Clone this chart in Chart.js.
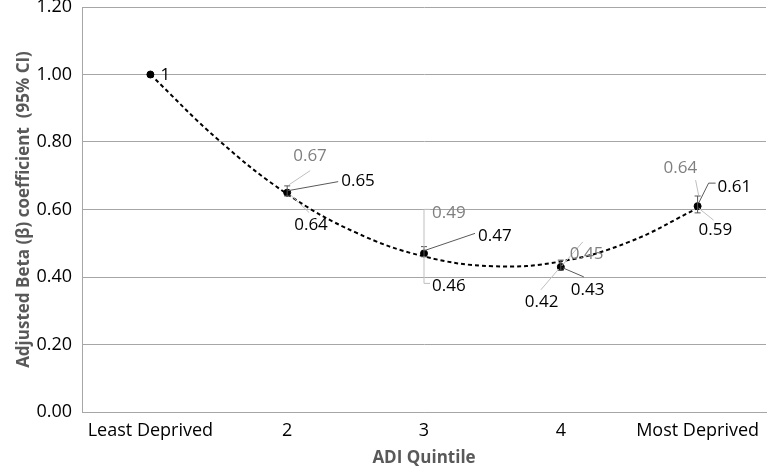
<!DOCTYPE html>
<html>
<head>
<meta charset="utf-8">
<script src="https://cdn.jsdelivr.net/npm/chart.js@4"></script>
<style>
  body { margin: 0; background: #fff; }
  #wrap { width: 771px; height: 468px; }
</style>
</head>
<body>
<div id="wrap"><canvas id="chart"></canvas></div>
<script>
// ADI quintile categories and adjusted beta values
const quintiles = ['Least Deprived', '2', '3', '4', 'Most Deprived'];
const beta = [1, 0.65, 0.47, 0.43, 0.61];
const ciLower = [1, 0.64, 0.46, 0.42, 0.59];
const ciUpper = [1, 0.67, 0.49, 0.45, 0.64];

// dashed trend curve (half-step positions)
const trendX = [1, 1.5, 2, 2.5, 3, 3.5, 4, 4.5, 5];
const trendY = [1.00, 0.805, 0.646, 0.532, 0.461, 0.432, 0.446, 0.504, 0.604];

const yTicks = [0, 0.2, 0.4, 0.6, 0.8, 1.0, 1.2];

// label text for each point: upper CI (grey), estimate, lower CI
const pointLabels = ['1', '0.65', '0.47', '0.43', '0.61'];
const upperLabels = ['', '0.67', '0.49', '0.45', '0.64'];
const lowerLabels = ['', '0.64', '0.46', '0.42', '0.59'];

const family = '"Open Sans", "Liberation Sans", sans-serif';
const labelFont = '17px ' + family;

// Draws the error bars and the data labels with their leader lines
const callouts = {
  id: 'callouts',
  afterDatasetsDraw(chart) {
    const ctx = chart.ctx;
    const xs = chart.scales.x;
    const ys = chart.scales.y;
    ctx.save();

    // error bars
    ctx.strokeStyle = '#555';
    ctx.lineWidth = 1;
    for (let i = 0; i < beta.length; i++) {
      if (ciUpper[i] === ciLower[i]) continue;
      const px = xs.getPixelForValue(i + 1);
      const top = ys.getPixelForValue(ciUpper[i]);
      const bot = ys.getPixelForValue(ciLower[i]);
      ctx.beginPath();
      ctx.moveTo(px, top); ctx.lineTo(px, bot);
      ctx.moveTo(px - 3, top); ctx.lineTo(px + 3, top);
      ctx.moveTo(px - 3, bot); ctx.lineTo(px + 3, bot);
      ctx.stroke();
    }

    // offsets for labels: [textX, textY, leader points...] relative to the point
    const layout = [
      { up: null, mid: [10, 1, null], low: null },
      { up: [6, -36, [[2, -8], [23, -22]]], mid: [54, -11, [[1, -2], [51, -11]]], low: [7, 33, [[3, 2], [22, 20]]] },
      { up: [8, -40, [[0, -3], [0, -44], [6, -44]]], mid: [54, -17, [[1, -3], [51, -20]]], low: [8, 33, [[0, 3], [0, 30], [6, 30]]] },
      { up: [9, -13, [[1, -1], [22, -25]]], mid: [10, 23, [[2, 1], [23, 10]]], low: [-36, 35, [[-2, 2], [-20, 23]]] },
      { up: [-34, -38, [[-2, -26], [1, -11]]], mid: [20, -19, [[1, -3], [11, -23], [18, -23]]], low: [1, 24, [[1, 2], [16, 14]]] }
    ];

    ctx.font = labelFont;
    ctx.textBaseline = 'middle';
    ctx.textAlign = 'left';
    for (let i = 0; i < beta.length; i++) {
      const px = xs.getPixelForValue(i + 1);
      const py = ys.getPixelForValue(beta[i]);
      const l = layout[i];
      const parts = [
        [l.up, upperLabels[i], '#7f7f7f', '#bfbfbf'],
        [l.mid, pointLabels[i], '#000', '#595959'],
        [l.low, lowerLabels[i], '#000', '#bfbfbf']
      ];
      parts.forEach(([pos, text, color, lineColor]) => {
        if (!pos || !text) return;
        const path = pos[2];
        if (path) {
          ctx.strokeStyle = lineColor;
          ctx.beginPath();
          path.forEach((p, k) => {
            if (k === 0) ctx.moveTo(px + p[0], py + p[1]);
            else ctx.lineTo(px + p[0], py + p[1]);
          });
          ctx.stroke();
        }
        ctx.fillStyle = color;
        ctx.fillText(text, px + pos[0], py + pos[1]);
      });
    }
    ctx.restore();
  }
};

const ctx = document.getElementById('chart').getContext('2d');
new Chart(ctx, {
  type: 'scatter',
  data: {
    datasets: [
      {
        label: 'Trend',
        type: 'line',
        data: trendX.map((x, i) => ({ x: x, y: trendY[i] })),
        borderColor: '#000',
        borderWidth: 2,
        borderDash: [4, 3],
        pointRadius: 0,
        tension: 0.4,
        fill: false
      },
      {
        label: 'Adjusted beta',
        data: beta.map((v, i) => ({ x: i + 1, y: v })),
        backgroundColor: '#000',
        borderColor: '#000',
        pointRadius: 3.5,
        showLine: false
      }
    ]
  },
  options: {
    responsive: true,
    maintainAspectRatio: false,
    animation: false,
    layout: { padding: { top: 7, right: 0, bottom: 0, left: 0 } },
    plugins: {
      legend: { display: false },
      tooltip: { enabled: false }
    },
    scales: {
      x: {
        type: 'linear',
        min: 0.5,
        max: 5.5,
        afterBuildTicks: scale => {
          scale.ticks = quintiles.map((q, i) => ({ value: i + 1 }));
        },
        afterFit: scale => {
          scale.height = 56;
          scale.paddingLeft = 0;
          scale.paddingRight = 0;
        },
        grid: { display: false, drawTicks: false },
        border: { display: true, color: '#a6a6a6', width: 1 },
        ticks: {
          padding: 8,
          color: '#000',
          font: { size: 18, family: family },
          callback: v => quintiles[Math.round(v) - 1] || ''
        },
        title: {
          display: true,
          text: 'ADI Quintile',
          color: '#595959',
          padding: { top: 0, bottom: 0 },
          font: { size: 17, weight: 'bold', family: family }
        }
      },
      y: {
        min: 0,
        max: 1.2,
        afterBuildTicks: scale => {
          scale.ticks = yTicks.map(v => ({ value: v }));
        },
        afterFit: scale => {
          scale.width = 82;
          scale.paddingTop = 0;
          scale.paddingBottom = 0;
        },
        grid: { color: '#a6a6a6', lineWidth: 1, drawTicks: false },
        border: { display: true, color: '#a6a6a6', width: 1 },
        ticks: {
          padding: 10,
          color: '#000',
          font: { size: 18, family: family },
          callback: v => v.toFixed(2)
        },
        title: {
          display: true,
          text: 'Adjusted Beta (β) coefficient  (95% CI)',
          color: '#595959',
          padding: { top: 14, bottom: 4 },
          font: { size: 17, weight: 'bold', family: family }
        }
      }
    }
  },
  plugins: [callouts]
});
</script>
</body>
</html>
